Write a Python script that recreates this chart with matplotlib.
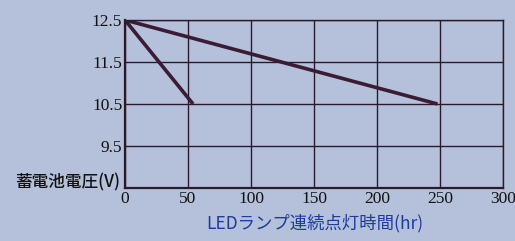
import matplotlib.pyplot as plt

# data
hours_a = [0, 54]
volts_a = [12.5, 10.5]
hours_b = [0, 248]
volts_b = [12.5, 10.5]
xticks = [0, 50, 100, 150, 200, 250, 300]
yticks = [9.5, 10.5, 11.5, 12.5]

bg = '#b5c1da'
ink = '#3a1c35'

fig = plt.figure(figsize=(5.15, 2.41), dpi=100, facecolor=bg)
ax = fig.add_axes([0.2427, 0.22, 0.734, 0.697], facecolor=bg)

ax.plot(hours_a, volts_a, color=ink, lw=2.6, solid_capstyle='butt')
ax.plot(hours_b, volts_b, color=ink, lw=2.6, solid_capstyle='butt')

ax.set_xlim(0, 300)
ax.set_ylim(8.5, 12.5)
ax.set_xticks(xticks)
ax.set_yticks(yticks)
ax.set_yticklabels([str(v) for v in yticks])
ax.grid(True, color='#2a1a2a', lw=1.0)
ax.tick_params(length=0, pad=2, labelsize=12.5, colors='#111111')
for lbl in ax.get_xticklabels() + ax.get_yticklabels():
    lbl.set_family('Liberation Serif')
for s in ax.spines.values():
    s.set_color('#2a1a2a')
    s.set_linewidth(1.0)
ax.spines['left'].set_linewidth(1.6)
ax.spines['bottom'].set_linewidth(1.6)

fig.text(0.233, 0.245, '蓄電池電圧(V)', ha='right', va='center',
         fontsize=12, fontweight='medium', color='#111111',
         family=['Noto Sans CJK JP', 'DejaVu Sans'])
fig.text(0.612, 0.075, 'LEDランプ連続点灯時間(hr)', ha='center', va='center',
         fontsize=12.5, color='#1d3a9c',
         family=['Noto Sans CJK JP', 'DejaVu Sans'])

fig.savefig('out.png', dpi=100, facecolor=bg)
